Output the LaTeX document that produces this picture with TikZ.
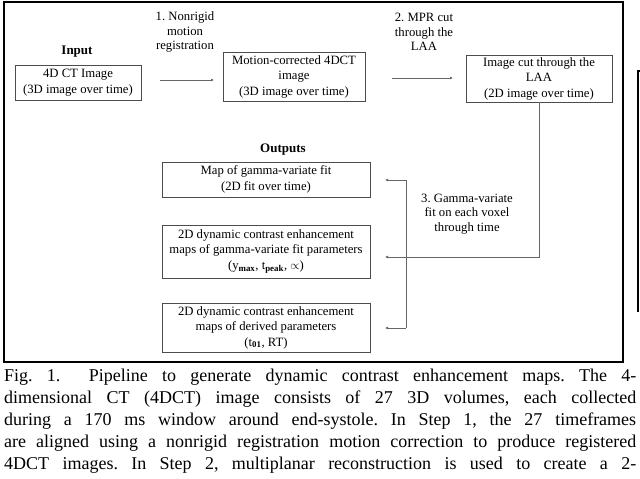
\documentclass[tikz,border=0pt]{standalone}
\usepackage{fontspec}
\setmainfont{Liberation Serif}
\usetikzlibrary{arrows.meta}
\begin{document}
\frenchspacing
\begin{tikzpicture}[x=1pt,y=-1pt,
  box/.style={draw=black!70,line width=0.8pt,inner sep=2pt,align=center,font=\fontsize{12.7}{15.5}\selectfont},
  lbl/.style={align=center,font=\fontsize{12.7}{14.5}\selectfont},
  arr/.style={draw=black!60,line width=0.6pt,-{Latex[length=3pt,width=3pt]}},
  capline/.style={anchor=west,inner sep=0pt,font=\fontsize{18}{22}\selectfont}]
\useasboundingbox (0,0) rectangle (640,479);
\draw[line width=1.3pt] (4,2) rectangle (623,362);
\draw[line width=1.3pt] (641,71) -- (638,71) -- (638,312);
\node[font=\bfseries\fontsize{13}{15}\selectfont] (inlbl) at (77,52) {Input};
\node[box,minimum width=126pt,minimum height=35pt] (in) at (78,82.5) {4D CT Image\\(3D image over time)};
\node[box,minimum width=142pt,minimum height=49pt] (mc) at (294,76.5) {Motion-corrected 4DCT\\image\\(3D image over time)};
\node[box,minimum width=146pt,minimum height=47pt] (ic) at (539,78.5) {Image cut through the\\LAA\\(2D image over time)};
\coordinate (a1s) at (160,80); \coordinate (a1e) at (214,80);
\draw[arr] (a1s) -- (a1e);
\node[lbl] (l1) at (185,32) {1. Nonrigid\\motion\\registration};
\coordinate (a2s) at (392,78); \coordinate (a2e) at (453,78);
\draw[arr] (a2s) -- (a2e);
\node[lbl] (l2) at (424,32) {2. MPR cut\\through the\\LAA};
\node[font=\bfseries\fontsize{13}{15}\selectfont] (outl) at (283,150) {Outputs};
\node[box,minimum width=208pt,minimum height=35pt] (o1) at (266,179.5) {Map of gamma-variate fit\\(2D fit over time)};
\node[box,minimum width=208pt,minimum height=53pt] (o2) at (266,251.5) {2D dynamic contrast enhancement\\maps of gamma-variate fit parameters\\($\mathrm{y}_{\mathbf{max}}$, $\mathrm{t}_{\mathbf{peak}}$, $\propto$)};
\node[box,minimum width=208pt,minimum height=49pt] (o3) at (266,327.5) {2D dynamic contrast enhancement\\maps of derived parameters\\($\mathrm{t}_{\mathbf{01}}$, RT)};
\coordinate (c1) at (539,102); \coordinate (c2) at (539,257); \coordinate (c3) at (385,257);
\draw[arr] (c1) -- (c2) -- (c3);
\coordinate (b1) at (406,180); \coordinate (b2) at (406,328);
\coordinate (t1) at (385,180); \coordinate (t3) at (385,328);
\draw[arr] (b1) -- (t1);
\draw[arr] (b2) -- (t3);
\draw[draw=black!60,line width=0.6pt] (b1) -- (b2);
\node[lbl] (l3) at (467,214) {3. Gamma-variate\\fit on each voxel\\through time};
\node[capline] (cap1) at (4,377) {\makebox[632pt][s]{Fig. 1.\ \ Pipeline to generate dynamic contrast enhancement maps. The 4-}};
\node[capline] (cap2) at (4,399) {\makebox[632pt][s]{dimensional CT (4DCT) image consists of 27 3D volumes, each collected}};
\node[capline] (cap3) at (4,421) {\makebox[632pt][s]{during a 170 ms window around end-systole. In Step 1, the 27 timeframes}};
\node[capline] (cap4) at (4,443) {\makebox[632pt][s]{are aligned using a nonrigid registration motion correction to produce registered}};
\node[capline] (cap5) at (4,465) {\makebox[632pt][s]{4DCT images. In Step 2, multiplanar reconstruction is used to create a 2-}};
\end{tikzpicture}
\end{document}
